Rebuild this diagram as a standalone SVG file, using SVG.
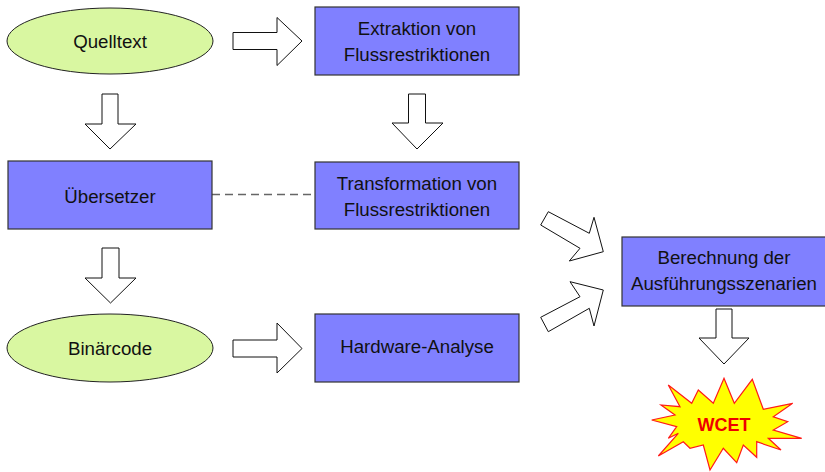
<svg xmlns="http://www.w3.org/2000/svg" width="825" height="472" viewBox="0 0 825 472">
<style>
.ell{fill:#d9f7a1;stroke:#222;stroke-width:1}
.box{fill:#8080ff;stroke:#333;stroke-width:1.2}
.arr{fill:#fff;stroke:#111;stroke-width:1}
.t{font-family:"Liberation Sans",Arial,sans-serif;font-size:18.7px;fill:#111;text-anchor:middle}
.dash{stroke:#666;stroke-width:1.5;stroke-dasharray:8 5;fill:none}
</style>
<rect width="825" height="472" fill="#fff"/>
<g id="connectors">
<line class="dash" x1="212" y1="194.5" x2="315" y2="194.5"/>
<polygon class="arr" points="233,32.5 277,32.5 277,17.5 302,41 277,65.5 277,49.5 233,49.5"/>
<polygon class="arr" points="233,340 277,340 277,323 302,348.5 277,373 277,357 233,357"/>
<polygon class="arr" points="102,94 118,94 118,124 136,124 110,149 85,124 102,124"/>
<polygon class="arr" points="408.5,94 425.5,94 425.5,123 443,123 417,149 392,123 408.5,123"/>
<polygon class="arr" points="102,248 119,248 119,278 136,278 110.5,303 85,278 102,278"/>
<polygon class="arr" points="716,309 732,309 732,338 749,338 724,364 699,338 716,338"/>
<polygon class="arr" points="548.3,211.7 589.3,233.3 594,217.3 603.3,251.7 569.3,261 580,248.3 540.7,225"/>
<polygon class="arr" points="548.3,331.7 589.3,308.3 594,326 603.3,290 570,281.7 580,296.7 540.7,317.3"/>
</g>
<g id="quelltext">
<ellipse class="ell" cx="110" cy="41" rx="103" ry="33"/>
<text class="t" x="110" y="48">Quelltext</text>
</g>
<g id="extraktion">
<rect class="box" x="315" y="7" width="204" height="68"/>
<text class="t" x="417" y="35">Extraktion von</text>
<text class="t" x="417" y="60.5">Flussrestriktionen</text>
</g>
<g id="uebersetzer">
<rect class="box" x="8" y="161" width="204" height="68"/>
<text class="t" x="110" y="202.5">Übersetzer</text>
</g>
<g id="transformation">
<rect class="box" x="315" y="162" width="204" height="67"/>
<text class="t" x="417" y="190">Transformation von</text>
<text class="t" x="417" y="215.5">Flussrestriktionen</text>
</g>
<g id="binaercode">
<ellipse class="ell" cx="110" cy="348" rx="103" ry="34"/>
<text class="t" x="110" y="355">Binärcode</text>
</g>
<g id="hardware">
<rect class="box" x="315" y="314" width="204" height="68"/>
<text class="t" x="417" y="353">Hardware-Analyse</text>
</g>
<g id="berechnung">
<rect class="box" x="622" y="237" width="204" height="69"/>
<text class="t" x="724" y="263.5">Berechnung der</text>
<text class="t" x="724" y="290">Ausführungsszenarien</text>
</g>
<g id="wcet">
<polygon fill="#ffff00" stroke="#ff1a1a" stroke-width="1.2" points="724,378.3 734.3,403.3 752.3,379.3 763.3,409.3 792.7,403.3 773.3,416.7 787.7,421.7 773.3,430 801.7,438.3 768.3,438.3 781,450 756.7,441.7 756.7,457.3 743.3,445 736.7,462.7 723.3,448.3 710,470 703.3,445 690,448.3 683.3,441.7 658.3,456 678.3,433.3 668.3,438.3 676.7,426.7 651.7,420 675,415 661,405 680,406.7 668.3,385 691.7,403.3 698.3,390 713.3,403.3"/>
<text x="724" y="431" font-family="Liberation Sans,Arial,sans-serif" font-size="18px" font-weight="bold" fill="#ee0000" text-anchor="middle">WCET</text>
</g>
</svg>
